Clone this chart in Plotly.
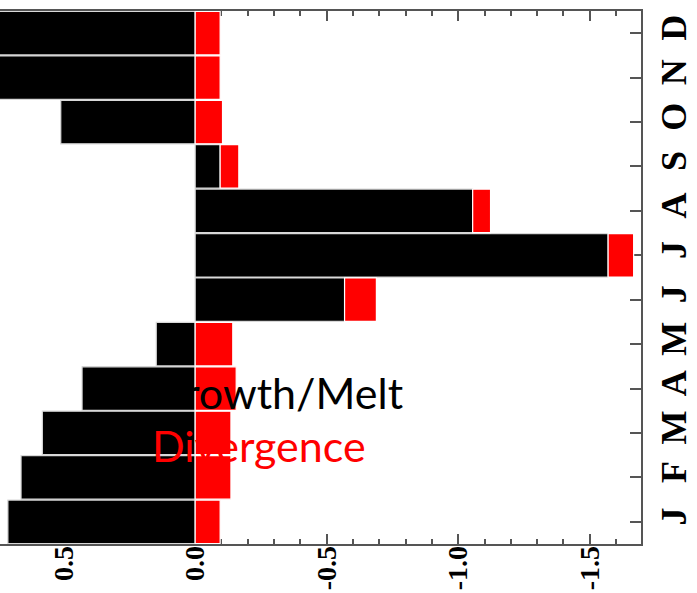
import plotly.graph_objects as go

months = ["J", "F", "M", "A", "M", "J", "J", "A", "S", "O", "N", "D"]
month_pos = list(range(12))
growth_melt = [0.712, 0.662, 0.581, 0.430, 0.148, -0.568, -1.570, -1.055, -0.095, 0.511, 0.78, 0.78]
divergence = [-0.095, -0.136, -0.136, -0.156, -0.143, -0.121, -0.097, -0.068, -0.071, -0.104, -0.095, -0.095]
x_tickvals = [0.5, 0.0, -0.5, -1.0, -1.5]
x_ticktext = ["0.5", "0.0", "-0.5", "-1.0", "-1.5"]

fig = go.Figure()
fig.add_trace(go.Bar(y=month_pos, x=growth_melt, orientation="h", name="Growth/Melt",
                     marker=dict(color="#000000", line=dict(color="#d8d8d8", width=1.2))))
fig.add_trace(go.Bar(y=month_pos, x=divergence, orientation="h", name="Divergence",
                     marker=dict(color="#ff0000", line=dict(color="#ffffff", width=1.2))))

axcol = "#555555"
fig.update_layout(
    width=697, height=593,
    margin=dict(l=0, r=56, t=11, b=49),
    barmode="relative", bargap=0.02,
    showlegend=False,
    plot_bgcolor="white", paper_bgcolor="white",
    xaxis=dict(range=[0.742, -1.695], tickvals=x_tickvals, ticktext=x_ticktext,
               ticks="inside", ticklen=10, tickwidth=1.5, tickcolor=axcol,
               showline=True, linecolor=axcol, linewidth=1.5, mirror="ticks",
               layer="below traces", showgrid=False, zeroline=False, tickangle=-90,
               automargin=False, ticklabelstandoff=-11,
               tickfont=dict(family="Liberation Serif", size=28, color="black", weight="bold"),
               minor=dict(dtick=0.1, tick0=0, ticks="inside", ticklen=5, tickwidth=1.5, tickcolor=axcol)),
    yaxis=dict(range=[-0.5, 11.5], tickvals=month_pos, ticktext=months, side="right",
               ticks="inside", ticklen=11, tickwidth=1.5, tickcolor=axcol,
               showline=True, linecolor=axcol, linewidth=1.5, automargin=False,
               layer="below traces", showgrid=False, zeroline=False, tickangle=-90,
               tickfont=dict(family="Liberation Serif", size=36, color="black", weight="bold")),
    annotations=[
        dict(text="Growth/Melt", x=151/641, y=0.285, xref="paper", yref="paper",
             xanchor="left", yanchor="middle", showarrow=False,
             font=dict(family="Lato", size=43, color="black")),
        dict(text="Divergence", x=150/641, y=0.184, xref="paper", yref="paper",
             xanchor="left", yanchor="middle", showarrow=False,
             font=dict(family="Lato", size=43, color="#ff0000")),
    ],
)
fig.write_html("out.html")
